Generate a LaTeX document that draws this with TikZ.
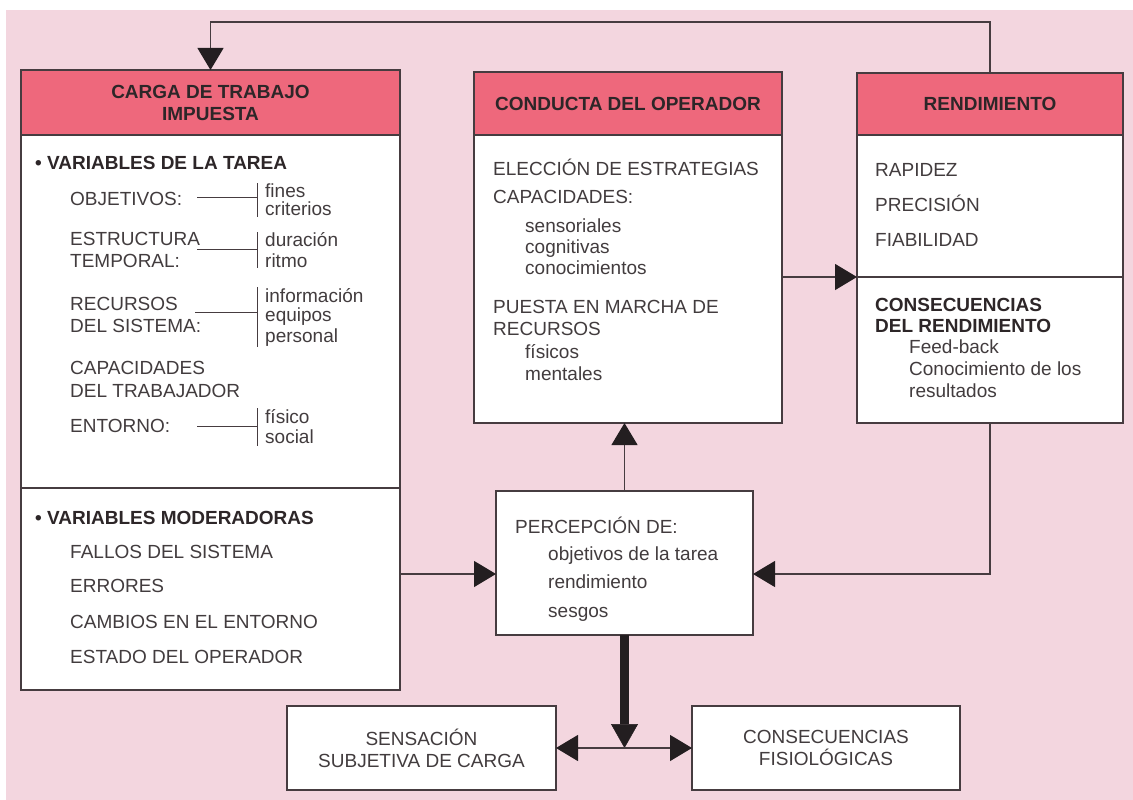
\documentclass[tikz,border=0pt]{standalone}
\usepackage{fontspec}
\setmainfont{Liberation Sans}
\usetikzlibrary{arrows.meta}

\definecolor{fondo}{RGB}{243,214,223}
\definecolor{cabecera}{RGB}{238,104,124}
\definecolor{linea}{RGB}{70,60,64}
\definecolor{punta}{RGB}{35,30,32}
\definecolor{letra}{RGB}{66,60,62}
\definecolor{oscuro}{RGB}{45,38,40}

\tikzset{
  caja/.style={draw=linea, line width=1.4pt, fill=white, inner sep=0pt, outer sep=0pt, anchor=north west},
  cabeza/.style={caja, fill=cabecera, text=oscuro, align=center, font=\bfseries\fontsize{19}{22}\selectfont},
  txt/.style={anchor=base west, inner sep=0pt, text=letra, font=\fontsize{19}{22}\selectfont},
  neg/.style={txt, text=oscuro, font=\bfseries\fontsize{19}{22}\selectfont},
  rama/.style={draw=linea, line width=1pt},
  flecha/.style={draw=linea, line width=1.2pt, -{Triangle[length=22pt,width=26pt,color=punta]}},
  gorda/.style={draw=punta, line width=9pt, -{Triangle[length=24pt,width=27pt,line width=0.5pt,color=punta]}},
  doble/.style={draw=linea, line width=1.2pt, {Triangle[length=22pt,width=26pt,color=punta]}-{Triangle[length=22pt,width=26pt,color=punta]}}
}

\begin{document}
\begin{tikzpicture}[x=1pt,y=-1pt]
\useasboundingbox (0,0) rectangle (1133,800);
\fill[white] (0,0) rectangle (1133,800);
\fill[fondo] (6,10) rectangle (1133,800);

% cajas
\node[caja, minimum width=379pt, minimum height=620pt] (carga) at (21,70) {};
\node[cabeza, minimum width=379pt, minimum height=65pt] (cargah) at (21,70) {CARGA DE TRABAJO\\IMPUESTA};
\draw[linea, line width=1.4pt] (21,488) -- (400,488);

\node[caja, minimum width=308pt, minimum height=351pt] (cond) at (474,72) {};
\node[cabeza, minimum width=308pt, minimum height=63pt] (condh) at (474,72) {CONDUCTA DEL OPERADOR};

\node[caja, minimum width=266pt, minimum height=350pt] (rend) at (857,73) {};
\node[cabeza, minimum width=266pt, minimum height=62pt] (rendh) at (857,73) {RENDIMIENTO};
\draw[linea, line width=1.4pt] (857,277) -- (1123,277);

\node[caja, minimum width=257pt, minimum height=144pt] (percep) at (496,491) {};

\node[caja, minimum width=269pt, minimum height=84pt, align=center, text=letra, font=\fontsize{19}{22}\selectfont] (sens) at (287,706) {SENSACIÓN\\SUBJETIVA DE CARGA};
\node[caja, minimum width=268pt, minimum height=84pt, align=center, text=letra, font=\fontsize{19}{22}\selectfont] (cons) at (692,706) {CONSECUENCIAS\\FISIOLÓGICAS};

% carga de trabajo impuesta
\node[neg] (vtarea) at (35,169) {• VARIABLES DE LA TAREA};
\node[txt] (objet) at (70,205) {OBJETIVOS:};
\node[txt] (fines) at (265,197) {fines};
\node[txt] (crit) at (265,215) {criterios};
\draw[rama] (197,197) -- (257,197); \draw[rama] (257,183) -- (257,217);
\node[txt] (estr) at (70,245) {ESTRUCTURA};
\node[txt] (temp) at (70,267) {TEMPORAL:};
\node[txt] (dura) at (265,246) {duración};
\node[txt] (ritmo) at (265,267) {ritmo};
\draw[rama] (197,249) -- (257,249); \draw[rama] (257,232) -- (257,268);
\node[txt] (recu) at (70,310) {RECURSOS};
\node[txt] (sist) at (70,332) {DEL SISTEMA:};
\node[txt] (info) at (265,302) {información};
\node[txt] (equi) at (265,321) {equipos};
\node[txt] (pers) at (265,342) {personal};
\draw[rama] (195,312) -- (257,312); \draw[rama] (257,287) -- (257,347);
\node[txt] (capa) at (70,374) {CAPACIDADES};
\node[txt] (trab) at (70,397) {DEL TRABAJADOR};
\node[txt] (ento) at (70,432) {ENTORNO:};
\node[txt] (fisi) at (265,423) {físico};
\node[txt] (soci) at (265,443) {social};
\draw[rama] (197,426) -- (257,426); \draw[rama] (257,408) -- (257,446);

\node[neg] (vmode) at (35,524) {• VARIABLES MODERADORAS};
\node[txt] (fallos) at (70,558) {FALLOS DEL SISTEMA};
\node[txt] (errores) at (70,592) {ERRORES};
\node[txt] (cambios) at (70,628) {CAMBIOS EN EL ENTORNO};
\node[txt] (estado) at (70,663) {ESTADO DEL OPERADOR};

% conducta del operador
\node[txt] (elec) at (493,175) {ELECCIÓN DE ESTRATEGIAS};
\node[txt] (capc) at (493,203) {CAPACIDADES:};
\node[txt] (sens1) at (525,232) {sensoriales};
\node[txt] (cogn) at (525,253) {cognitivas};
\node[txt] (cono) at (525,274) {conocimientos};
\node[txt] (puesta) at (493,313) {PUESTA EN MARCHA DE};
\node[txt] (recc) at (493,335) {RECURSOS};
\node[txt] (fisc) at (525,358) {físicos};
\node[txt] (ment) at (525,380) {mentales};

% rendimiento
\node[txt] (rapi) at (875,176) {RAPIDEZ};
\node[txt] (prec) at (875,211) {PRECISIÓN};
\node[txt] (fiab) at (875,246) {FIABILIDAD};
\node[neg] (conse) at (875,311) {CONSECUENCIAS};
\node[neg] (delr) at (875,332) {DEL RENDIMIENTO};
\node[txt] (feed) at (909,353) {Feed-back};
\node[txt] (conr) at (909,375) {Conocimiento de los};
\node[txt] (resu) at (909,397) {resultados};

% percepcion
\node[txt] (perc) at (515,533) {PERCEPCIÓN DE:};
\node[txt] (obta) at (548,560) {objetivos de la tarea};
\node[txt] (rendp) at (548,588) {rendimiento};
\node[txt] (sesg) at (548,617) {sesgos};

% flechas
\coordinate (arriba) at (600,22);
\draw[flecha] (rend.north) |- (arriba) -| (cargah.north);
\coordinate (rsep) at (857,277);
\draw[flecha] (cond.east |- rsep) -- (rsep);
\coordinate (retro) at (990,574);
\draw[flecha] (rend.south) -- (retro) -- (percep.east |- retro);
\draw[flecha] (carga.east |- retro) -- (percep.west |- retro);
\draw[flecha] (percep.north) -- (percep.north |- cond.south);
\coordinate (cruce) at (percep.south |- sens.east);
\draw[gorda] (percep.south) -- (cruce);
\draw[doble] (sens.east) -- (cons.west);
\end{tikzpicture}
\end{document}
